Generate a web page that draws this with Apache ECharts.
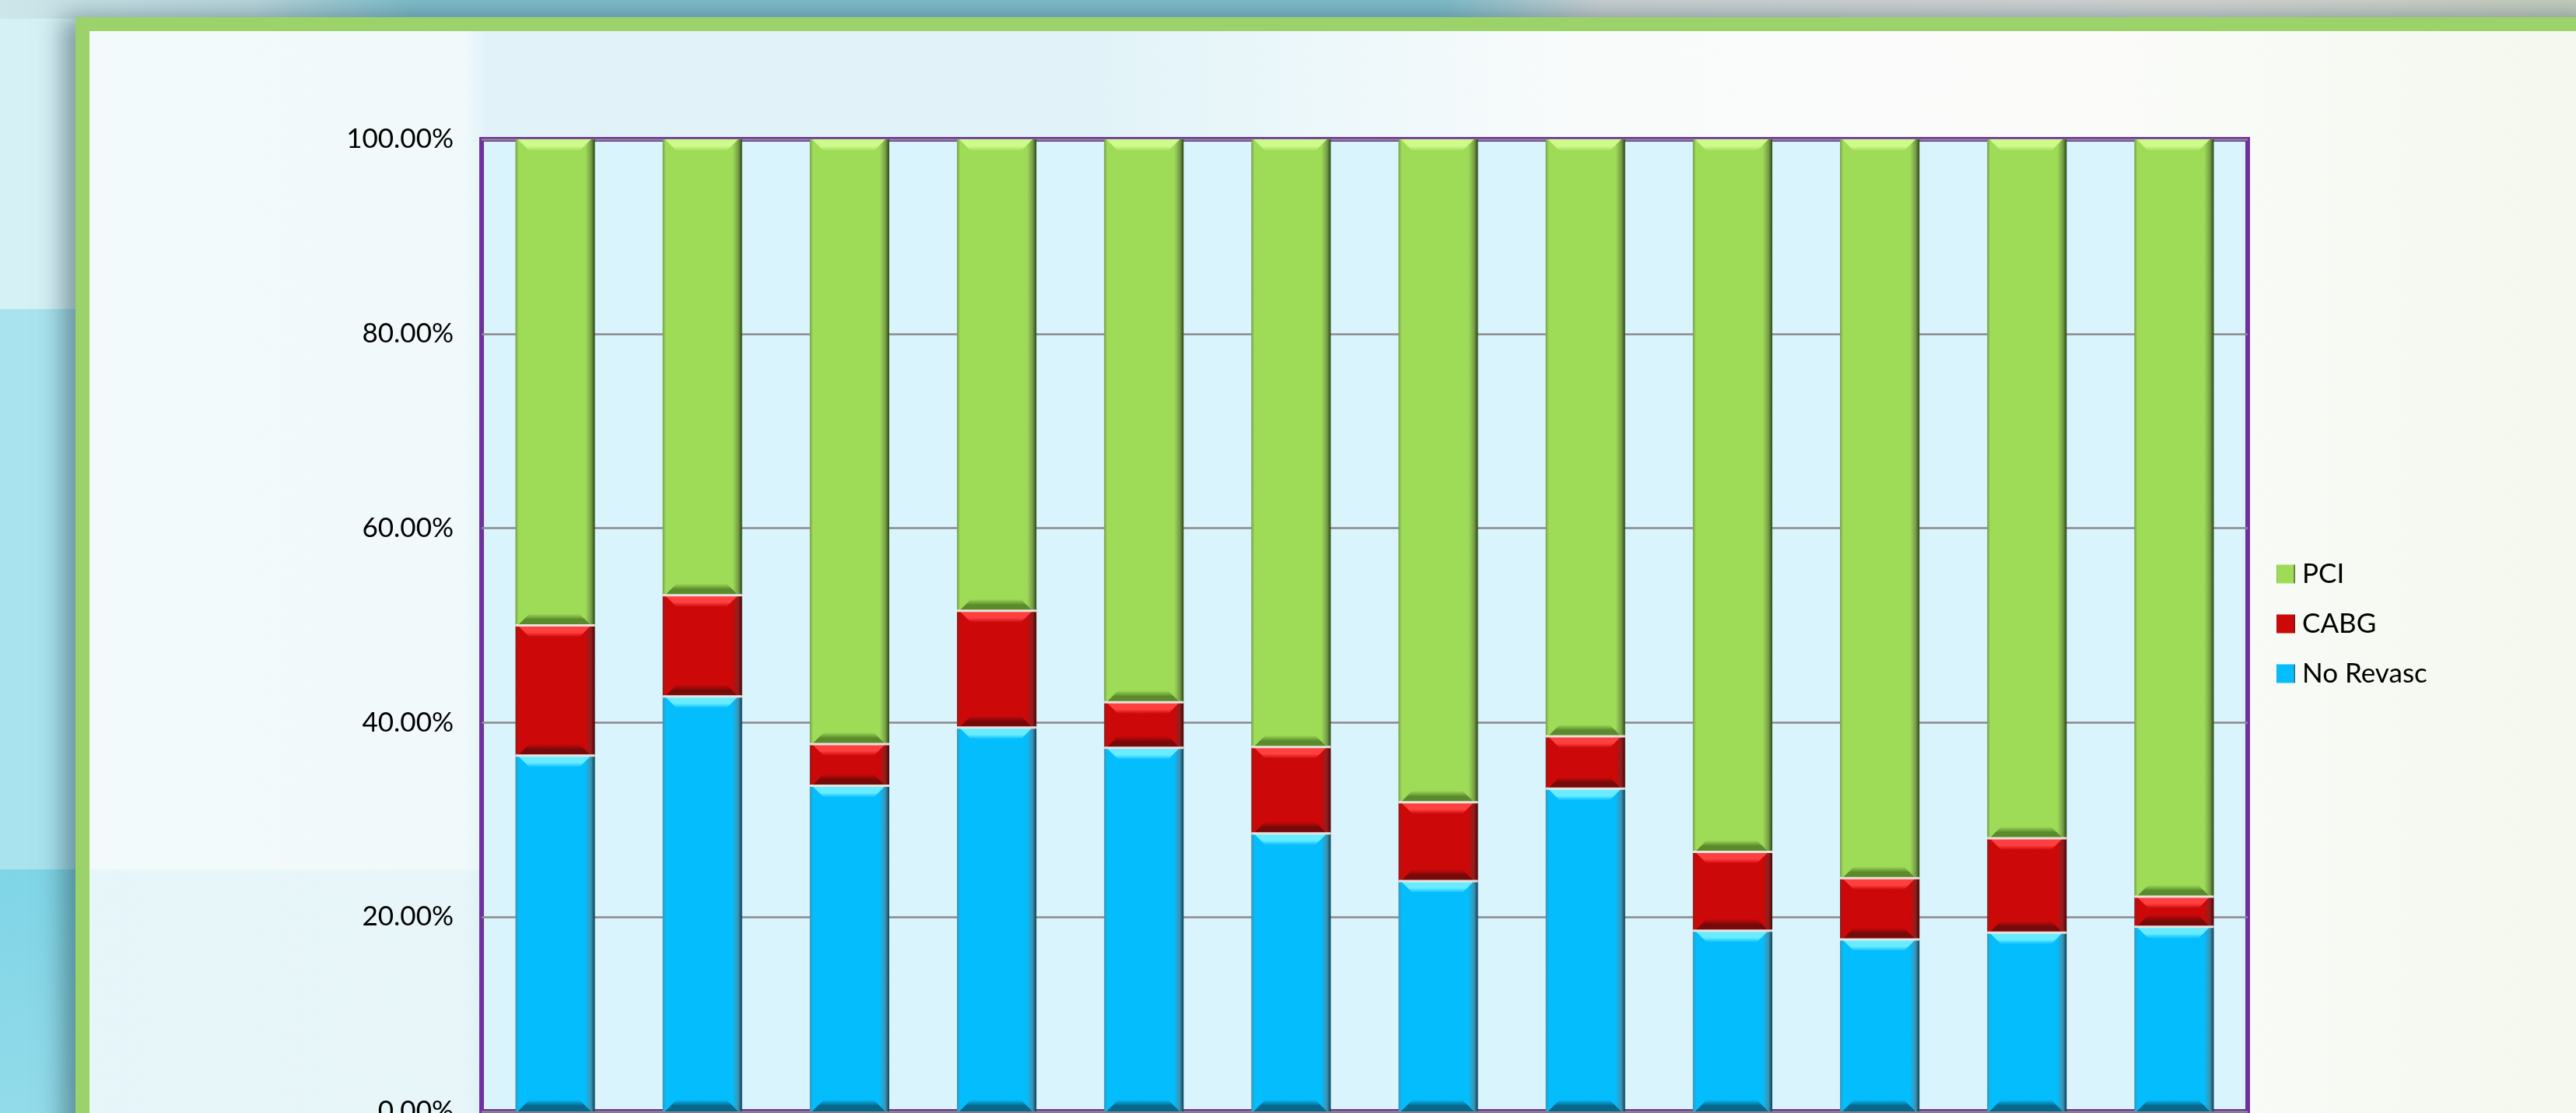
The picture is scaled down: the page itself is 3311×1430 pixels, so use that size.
<!DOCTYPE html>
<html>
<head>
<meta charset="utf-8">
<script src="https://cdn.jsdelivr.net/npm/echarts@6/dist/echarts.min.js"></script>
<style>
html, body { margin: 0; padding: 0; }
body { width: 3311px; height: 1430px; overflow: hidden; position: relative; background: #d5f1f6; }
.bg { position: absolute; }
#main { position: absolute; left: 0; top: 0; width: 3311px; height: 1430px; }
</style>
</head>
<body>
<!-- slide background behind the framed chart -->
<div class="bg" style="left:0;top:0;width:3311px;height:397px;background:#d5f1f6"></div>
<div class="bg" style="left:0;top:397px;width:3311px;height:720px;background:#a9e3ee"></div>
<div class="bg" style="left:0;top:1117px;width:3311px;height:313px;background:linear-gradient(to bottom,#7fd5e6,#92dbea)"></div>
<div class="bg" style="left:0;top:0;width:3311px;height:24px;background:linear-gradient(to right,#cde6ea 0%,#b9d6dc 10%,#a3ccd5 12%,#7fbdcb 16%,#7fbdcb 56%,#c9d0d2 62%,#d2d5d4 85%,#c5cdbf 100%)"></div>
<div class="bg" style="left:97px;top:22px;width:3250px;height:1450px;background:#9bd26a;box-shadow:-16px 0 30px rgba(40,70,80,0.5)"></div>
<div class="bg" style="left:115px;top:40px;width:3196px;height:1390px;background:linear-gradient(to right,#f3fafc 0%,#f1f9fb 15%,#e1f3f8 16%,#e1f3f8 40%,#edf8fa 50%,#f9fbfb 60%,#fbfcfa 80%,#f4f8ee 100%)"></div>
<div class="bg" style="left:115px;top:1117px;width:1900px;height:313px;background:linear-gradient(to right,rgba(200,235,242,0.3),rgba(200,235,242,0))"></div>
<div id="main"></div>
<script>
// groups (their x labels are cut off at the bottom of the picture)
var categories = ['1', '2', '3', '4', '5', '6', '7', '8', '9', '10', '11', '12'];
// percent of patients per group
var noRevasc = [36.6, 42.7, 33.5, 39.5, 37.4, 28.6, 23.7, 33.2, 18.6, 17.7, 18.4, 19.0];
var cabg = [13.4, 10.4, 4.3, 12.0, 4.7, 8.9, 8.1, 5.4, 8.1, 6.3, 9.7, 3.1];
var pci = [50.0, 46.9, 62.2, 48.5, 57.9, 62.5, 68.2, 61.4, 73.3, 76.0, 71.9, 77.9];
var yTicks = [0, 20, 40, 60, 80, 100];

var BAR_RATIO = 0.54;
// per stacked segment: main, highlight, shadow
var tones = [
    { main: '#03bdfd', hi: '#6aecff', lo: '#08688c' },
    { main: '#cc0808', hi: '#ff4040', lo: '#760909' },
    { main: '#9edc58', hi: '#cdfa8a', lo: '#5a8a2b' }
];

function bevel(edge, main, dark) {
    return new echarts.graphic.LinearGradient(0, 0, 1, 0, [
        { offset: 0, color: edge },
        { offset: 0.04, color: main },
        { offset: 0.88, color: main },
        { offset: 0.95, color: edge },
        { offset: 1, color: dark }
    ]);
}

// top highlight / bottom shade of each stacked piece
function renderBevel(params, api) {
    var i = api.value(0);
    var vals = [noRevasc[i], cabg[i], pci[i]];
    var w = api.size([1, 0])[0] * BAR_RATIO;
    var kids = [];
    var base = 0;
    for (var s = 0; s < vals.length; s++) {
        var pb = api.coord([i, base]);
        var pt = api.coord([i, base + vals[s]]);
        var x0 = pb[0] - w / 2, x1 = pb[0] + w / 2;
        var yb = pb[1], yt = pt[1];
        var h = Math.min(15, (yb - yt) / 2);
        var ins = Math.min(15, h);
        var t = tones[s];
        kids.push({
            type: 'polygon',
            shape: { points: [[x0 + 3, yt], [x1 - 5, yt], [x1 - 5 - ins, yt + h], [x0 + 3 + ins, yt + h]] },
            style: { fill: new echarts.graphic.LinearGradient(0, 0, 0, 1, [
                { offset: 0, color: t.hi }, { offset: 0.6, color: t.hi }, { offset: 1, color: t.main }]) }
        });
        kids.push({
            type: 'polygon',
            shape: { points: [[x0 + 3, yb], [x1 - 5, yb], [x1 - 5 - ins, yb - h], [x0 + 3 + ins, yb - h]] },
            style: { fill: new echarts.graphic.LinearGradient(0, 0, 0, 1, [
                { offset: 0, color: t.main }, { offset: 0.5, color: t.lo }, { offset: 1, color: t.lo }]) }
        });
        if (s > 0) {
            kids.push({
                type: 'line',
                shape: { x1: x0, y1: yb, x2: x1, y2: yb },
                style: { stroke: 'rgba(238,232,228,0.95)', lineWidth: 3 }
            });
        }
        base += vals[s];
    }
    return { type: 'group', children: kids };
}

var myChart = echarts.init(document.getElementById('main'));
var option = {
    backgroundColor: 'transparent',
    textStyle: { fontFamily: 'Lato' },
    legend: {
        data: ['PCI', 'CABG', 'No Revasc'],
        orient: 'vertical',
        left: 2921,
        top: 715,
        itemWidth: 24,
        itemHeight: 24,
        itemGap: 29,
        icon: 'rect',
        textStyle: { color: '#000', fontSize: 35, fontFamily: 'Lato', padding: [0, 0, 0, 4] }
    },
    grid: {
        left: 619,
        right: 422,
        top: 179,
        bottom: 2,
        outerBoundsMode: 'none',
        show: true,
        backgroundColor: '#d9f4fd',
        borderColor: '#7030a0',
        borderWidth: 6
    },
    xAxis: {
        type: 'category',
        data: categories,
        axisLine: { show: false },
        axisTick: { show: false },
        axisLabel: { show: false }
    },
    yAxis: {
        type: 'value',
        min: yTicks[0],
        max: yTicks[yTicks.length - 1],
        interval: 20,
        axisLine: { show: false },
        axisTick: { show: false },
        splitLine: { lineStyle: { color: '#8a8a8a', width: 2.5 } },
        axisLabel: {
            color: '#000',
            fontSize: 35,
            fontFamily: 'Lato',
            margin: 36,
            formatter: function (v) { return v.toFixed(2) + '%'; }
        }
    },
    series: [
        {
            name: 'No Revasc',
            type: 'bar',
            stack: 'all',
            barWidth: BAR_RATIO * 100 + '%',
            data: noRevasc,
            itemStyle: { color: bevel('#3f93b2', tones[0].main, '#0b4257') }
        },
        {
            name: 'CABG',
            type: 'bar',
            stack: 'all',
            barWidth: BAR_RATIO * 100 + '%',
            data: cabg,
            itemStyle: { color: bevel('#8e2020', tones[1].main, '#4a0404') }
        },
        {
            name: 'PCI',
            type: 'bar',
            stack: 'all',
            barWidth: BAR_RATIO * 100 + '%',
            data: pci,
            itemStyle: { color: bevel('#789f4a', tones[2].main, '#2c4a14') }
        },
        {
            name: 'bevel',
            type: 'custom',
            silent: true,
            z: 5,
            renderItem: renderBevel,
            data: categories.map(function (c, i) { return [i]; })
        }
    ]
};
myChart.setOption(option);
</script>
</body>
</html>
